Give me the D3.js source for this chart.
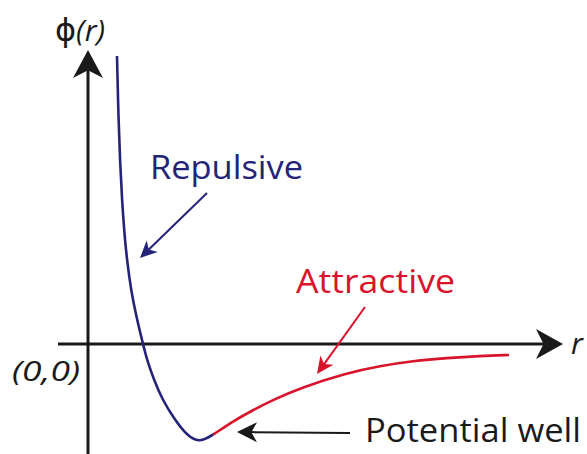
<!DOCTYPE html>
<html>
<head>
<meta charset="utf-8">
<script src="https://cdn.jsdelivr.net/npm/d3@7"></script>
<style>
  html, body { margin: 0; padding: 0; background: #fff; }
  svg { display: block; font-family: "Open Sans", "DejaVu Sans", sans-serif; }
</style>
</head>
<body>
<svg id="myGraph" width="587" height="454"></svg>
<script>
// curve values (r, phi in arbitrary units)
var repulsiveR   = [0.58, 0.61, 0.64, 0.68, 0.73, 0.78, 0.86, 0.96, 1.10, 1.18, 1.32, 1.49, 1.74, 1.94, 2.14, 2.30, 2.50];
var repulsivePhi = [2.88, 2.24, 1.84, 1.44, 1.09, 0.84, 0.54, 0.29, 0.00, -0.16, -0.36, -0.56, -0.76, -0.89, -0.965, -0.965, -0.91];
var attractiveR   = [2.50, 2.84, 3.30, 3.70, 4.24, 5.18, 5.84, 6.50, 7.18, 7.84, 8.42];
var attractivePhi = [-0.91, -0.79, -0.66, -0.56, -0.44, -0.29, -0.22, -0.17, -0.14, -0.12, -0.11];

// annotation arrows: [fromR, fromPhi, toR, toPhi]
var repulsiveArrow  = [2.38, 1.51, 1.04, 0.86];
var attractiveArrow = [5.54, 0.37, 4.58, -0.30];
var wellArrow       = [5.24, -0.89, 2.98, -0.88];

var axisLabels = ["\u03D5", "(r)", "r", "(0,0)"];
var noteLabels = ["Repulsive", "Attractive", "Potential well"];

var blue = "#23237a";
var red = "#d9132b";
var ink = "#1a1a1a";

var svg = d3.select("#myGraph");

// scales: r=0 at x=88, phi=0 at y=344
var x = d3.scaleLinear().domain([0, 10]).range([88, 588]);
var y = d3.scaleLinear().domain([-1.1, 2.9]).range([454, 54]);

// arrowhead with notched back
function arrowHead(x1, y1, x2, y2, len, half){
    var dx = x2 - x1, dy = y2 - y1;
    var d = Math.sqrt(dx*dx + dy*dy);
    var ux = dx/d, uy = dy/d;
    var px = -uy, py = ux;
    var bx = x2 - ux*len, by = y2 - uy*len;
    var nx = x2 - ux*len*0.72, ny = y2 - uy*len*0.72;
    return "M" + x2 + "," + y2 +
        "L" + (bx + px*half) + "," + (by + py*half) +
        "L" + nx + "," + ny +
        "L" + (bx - px*half) + "," + (by - py*half) + "Z";
}

function drawArrow(x1, y1, x2, y2, color, width, len, half){
    var dx = x2 - x1, dy = y2 - y1;
    var d = Math.sqrt(dx*dx + dy*dy);
    svg.append("line")
        .attr("x1", x1).attr("y1", y1)
        .attr("x2", x2 - dx/d*len*0.7).attr("y2", y2 - dy/d*len*0.7)
        .attr("stroke", color)
        .attr("stroke-width", width);
    svg.append("path")
        .attr("d", arrowHead(x1, y1, x2, y2, len, half))
        .attr("fill", color);
}

// axes
drawArrow(x(0), 460, x(0), 50, ink, 3, 28, 15);
drawArrow(58, y(0), 563, y(0), ink, 3, 27, 15);

// one smooth curve, coloured blue / red either side of the join
var line = d3.line()
    .x(function(d){ return x(d[0]); })
    .y(function(d){ return y(d[1]); })
    .curve(d3.curveBasis);

var curve = repulsiveR.map(function(r, i){ return [r, repulsivePhi[i]]; })
    .concat(attractiveR.slice(1).map(function(r, i){ return [r, attractivePhi[i + 1]]; }));
var joinX = x(attractiveR[0]);

var defs = svg.append("defs");
defs.append("clipPath").attr("id", "clipBlue")
    .append("rect").attr("x", 0).attr("y", 0).attr("width", joinX).attr("height", 454);
defs.append("clipPath").attr("id", "clipRed")
    .append("rect").attr("x", joinX).attr("y", 0).attr("width", 587 - joinX).attr("height", 454);

svg.append("path")
    .datum(curve)
    .attr("d", line)
    .attr("clip-path", "url(#clipBlue)")
    .attr("fill", "none")
    .attr("stroke", blue)
    .attr("stroke-width", 2.6);

svg.append("path")
    .datum(curve)
    .attr("d", line)
    .attr("clip-path", "url(#clipRed)")
    .attr("fill", "none")
    .attr("stroke", red)
    .attr("stroke-width", 2.6);

// annotation arrows
function noteArrow(a, color, width, len, half){
    drawArrow(x(a[0]), y(a[1]), x(a[2]), y(a[3]), color, width, len, half);
}
noteArrow(repulsiveArrow, blue, 2, 17, 8);
noteArrow(attractiveArrow, red, 2, 17, 8);
noteArrow(wellArrow, ink, 2, 20, 10);

// axis labels
var phiText = svg.append("text")
    .attr("x", 55).attr("y", 41)
    .attr("font-size", 30)
    .attr("fill", ink);
phiText.append("tspan").attr("font-size", 32).text(axisLabels[0]);
phiText.append("tspan").attr("font-style", "italic").text(axisLabels[1]);

svg.append("text")
    .attr("x", 571).attr("y", 354)
    .attr("font-size", 30)
    .attr("font-style", "italic")
    .attr("fill", ink)
    .text(axisLabels[2]);

svg.append("text")
    .attr("x", 12).attr("y", 381)
    .attr("font-size", 28)
    .attr("font-style", "italic")
    .attr("fill", ink)
    .attr("textLength", 68)
    .attr("lengthAdjust", "spacingAndGlyphs")
    .text(axisLabels[3]);

// notes
var notes = [
    {t: noteLabels[0], x: 150, y: 179, w: 153, c: blue},
    {t: noteLabels[1], x: 296, y: 293, w: 159, c: red},
    {t: noteLabels[2], x: 365, y: 442, w: 216, c: ink}
];
svg.selectAll("text.note")
    .data(notes)
    .enter()
    .append("text")
    .attr("class", "note")
    .attr("x", function(d){ return d.x; })
    .attr("y", function(d){ return d.y; })
    .attr("font-size", 33)
    .attr("fill", function(d){ return d.c; })
    .attr("textLength", function(d){ return d.w; })
    .attr("lengthAdjust", "spacingAndGlyphs")
    .text(function(d){ return d.t; });
</script>
</body>
</html>
